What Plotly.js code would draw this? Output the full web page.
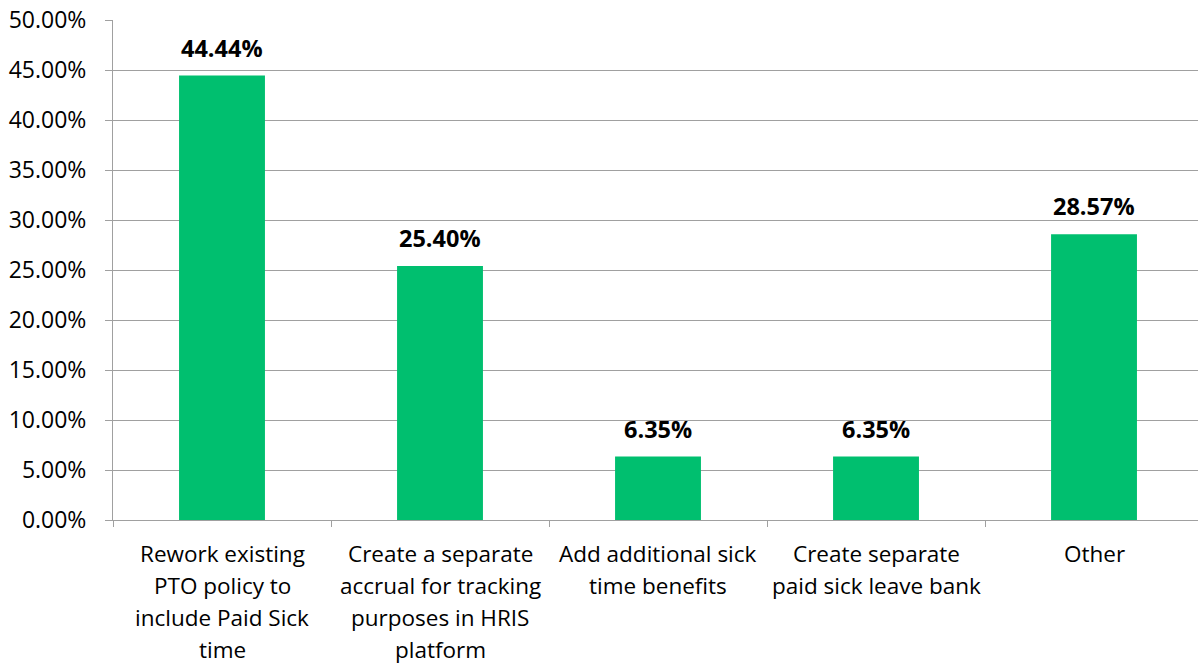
<!DOCTYPE html>
<html>
<head>
<meta charset="utf-8">
<script src="https://cdn.plot.ly/plotly-3.0.1.min.js"></script>
<style>html,body{margin:0;padding:0;background:#fff;}#chart{width:1198px;height:666px;}</style>
</head>
<body>
<div id="chart"></div>
<script>
const categories = [
  "Rework existing PTO policy to include Paid Sick time",
  "Create a separate accrual for tracking purposes in HRIS platform",
  "Add additional sick time benefits",
  "Create separate paid sick leave bank",
  "Other"
];
const categoryLines = [
  ["Rework existing", "PTO policy to", "include Paid Sick", "time"],
  ["Create a separate", "accrual for tracking", "purposes in HRIS", "platform"],
  ["Add additional sick", "time benefits"],
  ["Create separate", "paid sick leave bank"],
  ["Other"]
];
const values = [0.4444, 0.2540, 0.0635, 0.0635, 0.2857];
const valueLabels = ["44.44%", "25.40%", "6.35%", "6.35%", "28.57%"];

const FONT = "'Open Sans', Lato, sans-serif";
const annotations = [];
values.forEach((v, i) => {
  annotations.push({
    x: categories[i], y: v, xref: 'x', yref: 'y',
    text: '<b>' + valueLabels[i] + '</b>', showarrow: false,
    yanchor: 'middle', yshift: 28,
    font: {family: FONT, size: 23.5, color: '#000'}
  });
});
categoryLines.forEach((lines, i) => {
  lines.forEach((ln, j) => {
    annotations.push({
      x: categories[i], y: 0, xref: 'x', yref: 'paper',
      text: ln, showarrow: false, yanchor: 'middle', borderpad: 0,
      yshift: -(33 + j * 32),
      font: {family: FONT, size: 22.5, color: '#000'}
    });
  });
});

const trace = {
  type: 'bar', x: categories, y: values, width: 0.394,
  marker: {color: '#00BF6F'}, hoverinfo: 'none'
};
const layout = {
  width: 1198, height: 666,
  margin: {l: 113, r: 0, t: 20, b: 146},
  paper_bgcolor: '#fff', plot_bgcolor: '#fff',
  showlegend: false,
  font: {family: FONT, size: 20, color: '#000'},
  xaxis: {
    type: 'category', range: [-0.5, 4.477],
    showticklabels: false, showgrid: false,
    showline: true, linecolor: '#A0A0A0', linewidth: 1,
    ticks: 'outside', tickson: 'boundaries', ticklen: 6, tickcolor: '#A0A0A0',
    zeroline: false, fixedrange: true
  },
  yaxis: {
    range: [0, 0.5], dtick: 0.05, tick0: 0, tickformat: '.2%',
    showgrid: true, gridcolor: '#A0A0A0', gridwidth: 1,
    showline: true, linecolor: '#A0A0A0', linewidth: 1,
    ticks: 'outside', ticklen: 7, tickcolor: '#A0A0A0',
    ticklabelstandoff: 14,
    tickfont: {family: FONT, size: 23, color: '#000'},
    zeroline: false, fixedrange: true
  },
  annotations: annotations
};
Plotly.newPlot('chart', [trace], layout, {displayModeBar: false, staticPlot: true});
</script>
</body>
</html>
